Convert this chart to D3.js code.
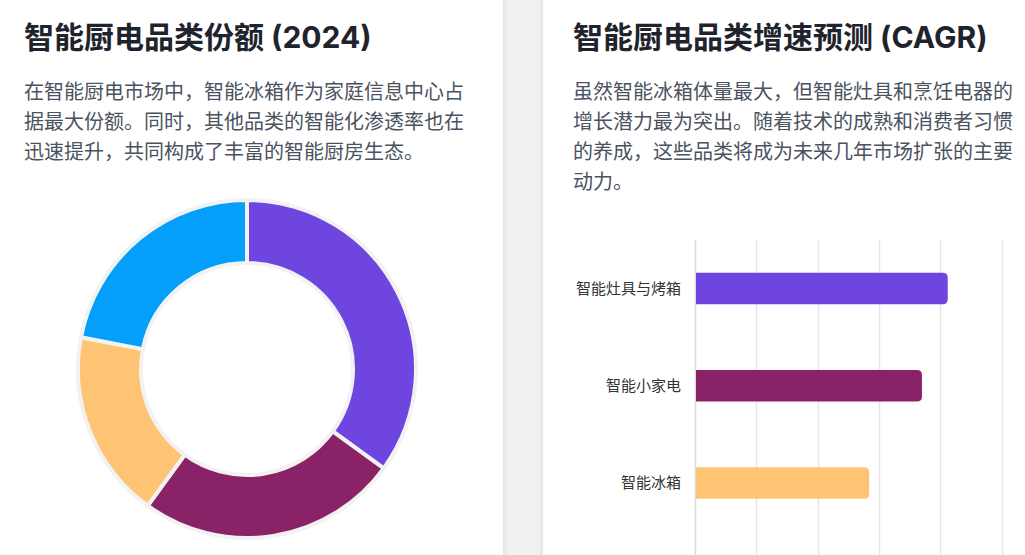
<!DOCTYPE html>
<html>
<head>
<meta charset="utf-8">
<script src="https://cdn.jsdelivr.net/npm/d3@7"></script>
<style>
  html, body { margin: 0; padding: 0; }
  body {
    width: 1025px; height: 555px; overflow: hidden; position: relative;
    background: #f1f1f1;
    font-family: "Inter", "Noto Sans CJK SC", sans-serif;
  }
  .card {
    position: absolute; top: -20px; height: 700px; background: #fff;
    box-shadow: 0 0 6px rgba(0,0,0,0.10);
    box-sizing: border-box; padding: 0 30px;
  }
  #left { left: -6px; width: 509px; }
  #right { left: 543px; width: 509px; }
  h2 {
    margin: 0; position: absolute; top: 39px; left: 30px;
    font-size: 30px; line-height: 36px; font-weight: 700; color: #1f242c;
    white-space: nowrap;
  }
  p {
    margin: 0; position: absolute; top: 97px; left: 30px; width: 449px;
    font-size: 20px; line-height: 30px; color: #4b5360;
  }
  svg { position: absolute; }
</style>
</head>
<body>
<div class="card" id="left">
  <h2>智能厨电品类份额 (2024)</h2>
  <p>在智能厨电市场中，智能冰箱作为家庭信息中心占据最大份额。同时，其他品类的智能化渗透率也在迅速提升，共同构成了丰富的智能厨房生态。</p>
</div>
<div class="card" id="right">
  <h2>智能厨电品类增速预测 (CAGR)</h2>
  <p>虽然智能冰箱体量最大，但智能灶具和烹饪电器的增长潜力最为突出。随着技术的成熟和消费者习惯的养成，这些品类将成为未来几年市场扩张的主要动力。</p>
</div>
<script>
// share of categories, 2024 (%)
const shareNames = ["智能冰箱", "智能小家电", "智能灶具与烤箱", "其他"];
const shareValues = [35, 25, 18, 22];
const shareColors = ["#6f45e0", "#8a2268", "#ffc473", "#039ffb"];

// CAGR forecast (%)
const cagrNames = ["智能灶具与烤箱", "智能小家电", "智能冰箱"];
const cagrValues = [20.6, 18.5, 14.2];
const cagrColors = ["#6f45e0", "#8a2268", "#ffc473"];
const cagrTicks = [0, 5, 10, 15, 20, 25];

// ---- donut
const donut = d3.select("body").append("svg")
  .attr("width", 500).attr("height", 365)
  .style("left", "0px").style("top", "190px");

const pie = d3.pie().sort(null).value(d => d)(shareValues);
const arc = d3.arc().innerRadius(106).outerRadius(169);

donut.append("g")
  .attr("transform", "translate(247,179)")
  .selectAll("path")
  .data(pie)
  .join("path")
  .attr("d", arc)
  .attr("fill", (d, i) => shareColors[i])
  .attr("stroke", "#f2f2f2")
  .attr("stroke-width", 4);

// ---- horizontal bars
const bw = 482, bh = 420;
const bars = d3.select("body").append("svg")
  .attr("width", bw).attr("height", bh)
  .style("left", "543px").style("top", "220px");

const m = {top: 20, left: 152};
const x = d3.scaleLinear().domain([0, 25]).range([m.left, m.left + 306.7]);
const y = d3.scaleBand().domain(cagrNames)
  .range([m.top, m.top + 3 * 97.2]).paddingInner(0.676).paddingOuter(0.338);

bars.append("g")
  .selectAll("line")
  .data(cagrTicks)
  .join("line")
  .attr("x1", d => Math.round(x(d)) + 0.5)
  .attr("x2", d => Math.round(x(d)) + 0.5)
  .attr("y1", m.top).attr("y2", bh)
  .attr("stroke", d => d === 0 ? "#d9d9d9" : "#e6e6e6")
  .attr("stroke-width", 1.5);

const r = 5;
bars.append("g")
  .selectAll("path")
  .data(cagrValues)
  .join("path")
  .attr("fill", (d, i) => cagrColors[i])
  .attr("d", (d, i) => {
    const x0 = x(0) + 1, x1 = x(d), y0 = y(cagrNames[i]), h = y.bandwidth();
    return `M${x0},${y0}H${x1 - r}Q${x1},${y0} ${x1},${y0 + r}V${y0 + h - r}Q${x1},${y0 + h} ${x1 - r},${y0 + h}H${x0}Z`;
  });

bars.append("g")
  .selectAll("text")
  .data(cagrNames)
  .join("text")
  .attr("x", x(0) - 14)
  .attr("y", d => y(d) + y.bandwidth() / 2)
  .attr("dy", "0.35em")
  .attr("text-anchor", "end")
  .attr("font-size", 15)
  .attr("fill", "#333")
  .text(d => d);
</script>
</body>
</html>
